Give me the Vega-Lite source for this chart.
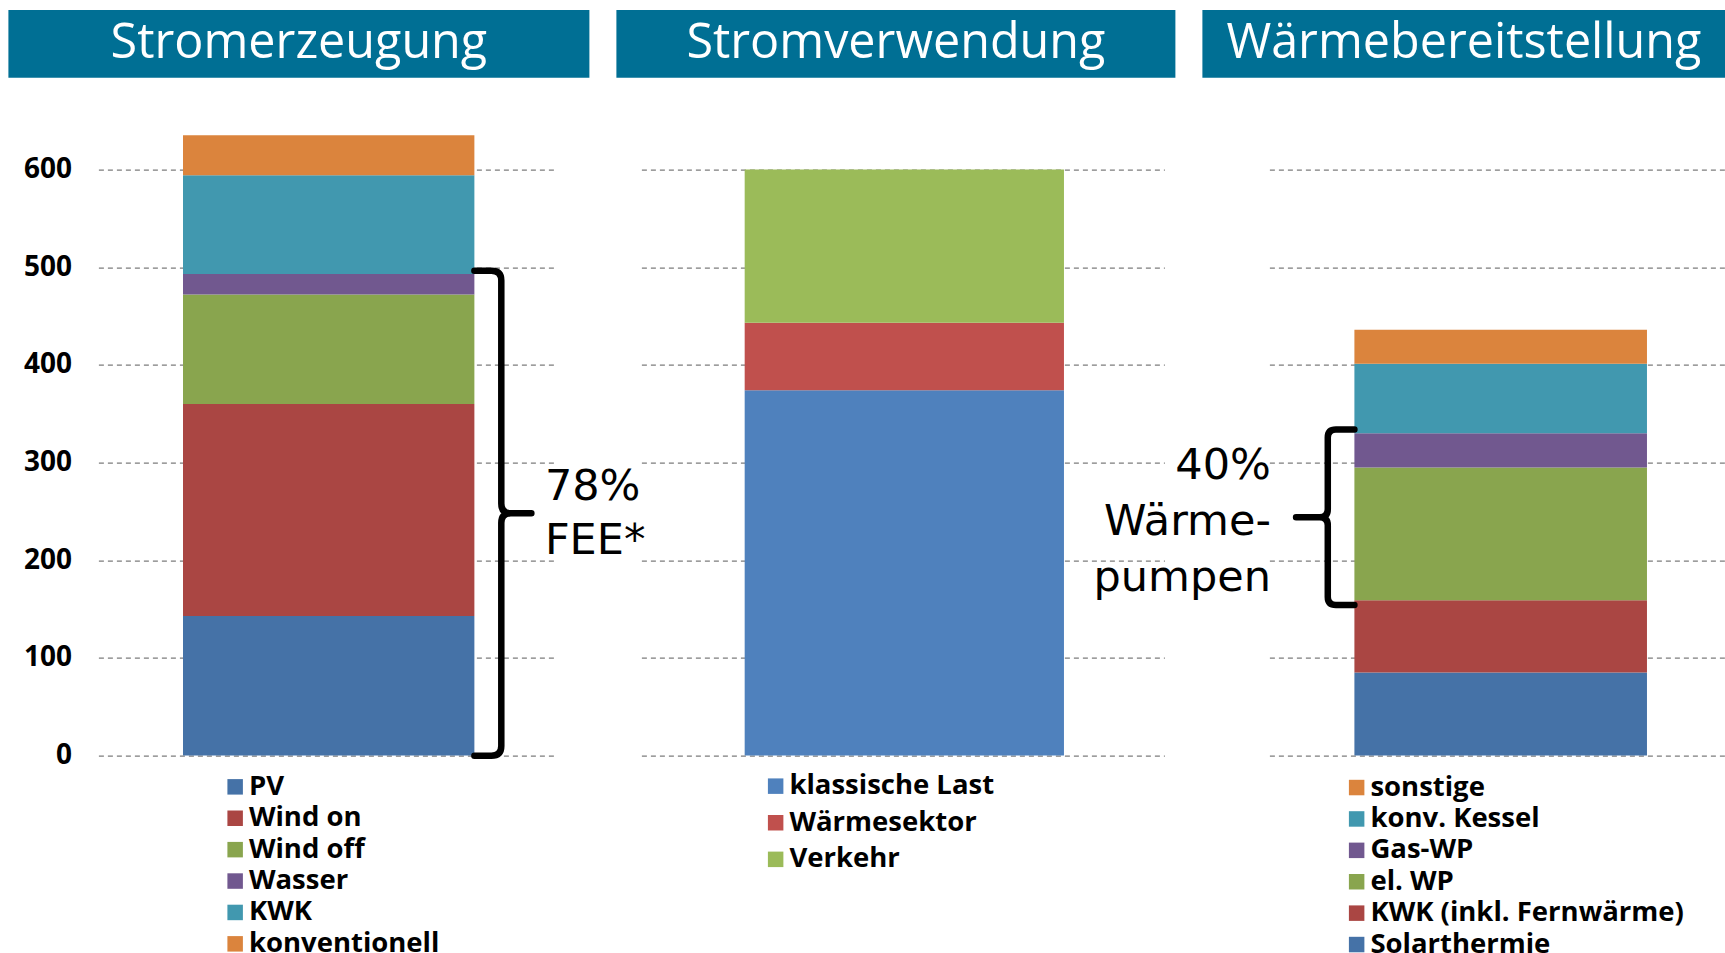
{
  "$schema": "https://vega.github.io/schema/vega-lite/v6.json",
  "padding": {"left": 8.4, "top": 10, "right": 0, "bottom": 0},
  "background": "white",
  "config": {"view": {"stroke": null}, "font": "Open Sans"},
  "datasets": {
    "balken": [
      {"panel": "Stromerzeugung", "kat": "PV", "wert": 143, "rang": 1},
      {"panel": "Stromerzeugung", "kat": "Wind on", "wert": 217, "rang": 2},
      {"panel": "Stromerzeugung", "kat": "Wind off", "wert": 112, "rang": 3},
      {"panel": "Stromerzeugung", "kat": "Wasser", "wert": 21, "rang": 4},
      {"panel": "Stromerzeugung", "kat": "KWK", "wert": 101, "rang": 5},
      {"panel": "Stromerzeugung", "kat": "konventionell", "wert": 41, "rang": 6},
      {"panel": "Stromverwendung", "kat": "klassische Last", "wert": 374, "rang": 1},
      {"panel": "Stromverwendung", "kat": "Wärmesektor", "wert": 69, "rang": 2},
      {"panel": "Stromverwendung", "kat": "Verkehr", "wert": 157, "rang": 3},
      {"panel": "Wärmebereitstellung", "kat": "Solarthermie", "wert": 85, "rang": 1},
      {"panel": "Wärmebereitstellung", "kat": "KWK (inkl. Fernwärme)", "wert": 74, "rang": 2},
      {"panel": "Wärmebereitstellung", "kat": "el. WP", "wert": 136, "rang": 3},
      {"panel": "Wärmebereitstellung", "kat": "Gas-WP", "wert": 35, "rang": 4},
      {"panel": "Wärmebereitstellung", "kat": "konv. Kessel", "wert": 71, "rang": 5},
      {"panel": "Wärmebereitstellung", "kat": "sonstige", "wert": 35, "rang": 6}
    ],
    "klammern": [
      {"panel": "Stromerzeugung", "wert": 248},
      {"panel": "Wärmebereitstellung", "wert": 244}
    ],
    "notizen": [
      {"panel": "Stromerzeugung", "wert": 261.3, "text": "78%\nFEE*"},
      {"panel": "Wärmebereitstellung", "wert": 283.5, "text": "40%\nWärme-\npumpen"}
    ]
  },
  "spacing": 42.6,
  "vconcat": [
    {
      "bounds": "flush",
      "spacing": 27,
      "hconcat": [
        {"width": 581, "height": 67.7, "view": {"fill": "#006f94", "stroke": null},
         "data": {"values": [{"titel": "Stromerzeugung"}]},
         "mark": {"type": "text", "fill": "#ffffff", "font": "Open Sans", "fontSize": 48.5, "align": "center", "baseline": "middle", "dy": -1},
         "encoding": {"text": {"field": "titel"}}},
        {"width": 559, "height": 67.7, "view": {"fill": "#006f94", "stroke": null},
         "data": {"values": [{"titel": "Stromverwendung"}]},
         "mark": {"type": "text", "fill": "#ffffff", "font": "Open Sans", "fontSize": 48.5, "align": "center", "baseline": "middle", "dy": -1},
         "encoding": {"text": {"field": "titel"}}},
        {"width": 523, "height": 67.7, "view": {"fill": "#006f94", "stroke": null},
         "data": {"values": [{"titel": "Wärmebereitstellung"}]},
         "mark": {"type": "text", "fill": "#ffffff", "font": "Open Sans", "fontSize": 48.5, "align": "center", "baseline": "middle", "dy": -1},
         "encoding": {"text": {"field": "titel"}}}
      ]
    },
    {
      "bounds": "flush",
      "spacing": 0,
      "resolve": {"scale": {"color": "independent", "x": "independent", "y": "independent"}, "legend": {"color": "independent"}, "axis": {"y": "independent", "x": "independent"}},
      "hconcat": [
        {"width": 89.3, "height": 635, "data": {"values": []}, "mark": "point"},
        {
          "width": 456.3, "height": 635,
          "layer": [
            {
              "data": {"name": "balken"},
              "transform": [{"filter": "datum.panel === 'Stromerzeugung'"}],
              "mark": {"type": "bar"},
              "encoding": {
                "x": {"field": "panel", "type": "nominal", "axis": null, "scale": {"paddingInner": 0, "paddingOuter": 0.283, "align": 0.513}},
                "y": {"field": "wert", "type": "quantitative", "stack": "zero", "scale": {"domain": [0, 650], "nice": false},
                  "axis": {"values": [0, 100, 200, 300, 400, 500, 600], "title": null, "domain": false, "ticks": false, "tickSize": 0, "labelPadding": 27, "labelFont": "Open Sans", "labelFontWeight": "bold", "labelFontSize": 28, "labelColor": "#000000", "grid": true, "gridDash": [5, 4], "gridColor": "#595959", "gridWidth": 1}},
                "color": {"field": "kat", "type": "nominal",
                  "scale": {"domain": ["PV", "Wind on", "Wind off", "Wasser", "KWK", "konventionell"], "range": ["#4572a7", "#aa4643", "#89a54e", "#71588f", "#4198af", "#db843d"]},
                  "legend": {"orient": "none", "legendX": 123, "legendY": 652.5, "title": null, "direction": "vertical", "symbolType": "square", "symbolSize": 240, "symbolStrokeWidth": 0, "labelFont": "Open Sans", "labelFontWeight": "bold", "labelFontSize": 27.5, "labelColor": "#000000", "labelOffset": 0, "rowPadding": 2.4, "padding": 0, "labelLimit": 600}},
                "order": {"field": "rang", "type": "quantitative"}
              }
            },
            {
              "data": {"name": "klammern"},
              "transform": [{"filter": "datum.panel === 'Stromerzeugung'"}],
              "mark": {"type": "point", "shape": "M 0 -1 L 0.07 -1 Q 0.111 -1 0.111 -0.96 L 0.111 -0.04 Q 0.111 0 0.15 0 L 0.235 0 M 0.15 0 Q 0.111 0 0.111 0.04 L 0.111 0.96 Q 0.111 1 0.07 1 L 0 1", "size": 235225, "filled": false, "stroke": "#000000", "strokeWidth": 6.5, "opacity": 1, "strokeCap": "round", "strokeJoin": "round"},
              "encoding": {
                "x": {"field": "panel", "type": "nominal", "bandPosition": 1},
                "y": {"field": "wert", "type": "quantitative", "title": null}
              }
            },
            {
              "data": {"name": "notizen"},
              "transform": [{"filter": "datum.panel === 'Stromerzeugung'"}],
              "mark": {"type": "text", "align": "left", "baseline": "alphabetic", "dx": 70.5, "font": "DejaVu Sans", "fontSize": 43, "lineHeight": 53.3, "lineBreak": "\n", "fill": "#000000"},
              "encoding": {
                "x": {"field": "panel", "type": "nominal", "bandPosition": 1},
                "y": {"field": "wert", "type": "quantitative", "title": null},
                "text": {"field": "text"}
              }
            }
          ]
        },
        {"width": 86, "height": 635, "data": {"values": []}, "mark": "point"},
        {
          "width": 523, "height": 635,
          "layer": [
            {
              "data": {"name": "balken"},
              "transform": [{"filter": "datum.panel === 'Stromverwendung'"}],
              "mark": {"type": "bar"},
              "encoding": {
                "x": {"field": "panel", "type": "nominal", "axis": null, "scale": {"paddingInner": 0, "paddingOuter": 0.319, "align": 0.507}},
                "y": {"field": "wert", "type": "quantitative", "stack": "zero", "scale": {"domain": [0, 650], "nice": false},
                  "axis": {"values": [0, 100, 200, 300, 400, 500, 600], "title": null, "domain": false, "ticks": false, "tickSize": 0, "labels": false, "grid": true, "gridDash": [5, 4], "gridColor": "#595959", "gridWidth": 1}},
                "color": {"field": "kat", "type": "nominal",
                  "scale": {"domain": ["klassische Last", "Wärmesektor", "Verkehr"], "range": ["#4f81bd", "#c0504d", "#9bbb59"]},
                  "legend": {"orient": "none", "legendX": 120.5, "legendY": 651.8, "title": null, "direction": "vertical", "symbolType": "square", "symbolSize": 240, "symbolStrokeWidth": 0, "labelFont": "Open Sans", "labelFontWeight": "bold", "labelFontSize": 27.5, "labelColor": "#000000", "labelOffset": 0, "rowPadding": 7.6, "padding": 0, "labelLimit": 600}},
                "order": {"field": "rang", "type": "quantitative"}
              }
            }
          ]
        },
        {"width": 105, "height": 635, "data": {"values": []}, "mark": "point"},
        {
          "width": 457, "height": 635,
          "layer": [
            {
              "data": {"name": "balken"},
              "transform": [{"filter": "datum.panel === 'Wärmebereitstellung'"}],
              "mark": {"type": "bar"},
              "encoding": {
                "x": {"field": "panel", "type": "nominal", "axis": null, "scale": {"paddingInner": 0, "paddingOuter": 0.281, "align": 0.517}},
                "y": {"field": "wert", "type": "quantitative", "stack": "zero", "scale": {"domain": [0, 650], "nice": false},
                  "axis": {"values": [0, 100, 200, 300, 400, 500, 600], "title": null, "domain": false, "ticks": false, "tickSize": 0, "labels": false, "grid": true, "gridDash": [5, 4], "gridColor": "#595959", "gridWidth": 1}},
                "color": {"field": "kat", "type": "nominal",
                  "scale": {"domain": ["sonstige", "konv. Kessel", "Gas-WP", "el. WP", "KWK (inkl. Fernwärme)", "Solarthermie"], "range": ["#db843d", "#4198af", "#71588f", "#89a54e", "#aa4643", "#4572a7"]},
                  "legend": {"orient": "none", "legendX": 73.5, "legendY": 653.2, "title": null, "direction": "vertical", "symbolType": "square", "symbolSize": 240, "symbolStrokeWidth": 0, "labelFont": "Open Sans", "labelFontWeight": "bold", "labelFontSize": 27.5, "labelColor": "#000000", "labelOffset": 0, "rowPadding": 2.4, "padding": 0, "labelLimit": 600}},
                "order": {"field": "rang", "type": "quantitative"}
              }
            },
            {
              "data": {"name": "klammern"},
              "transform": [{"filter": "datum.panel === 'Wärmebereitstellung'"}],
              "mark": {"type": "point", "shape": "M 0 -1 L -0.21 -1 Q -0.303 -1 -0.303 -0.909 L -0.303 -0.091 Q -0.303 0 -0.394 0 L -0.664 0 M -0.394 0 Q -0.303 0 -0.303 0.091 L -0.303 0.909 Q -0.303 1 -0.21 1 L 0 1", "size": 30870, "filled": false, "stroke": "#000000", "strokeWidth": 6.5, "opacity": 1, "strokeCap": "round", "strokeJoin": "round"},
              "encoding": {
                "x": {"field": "panel", "type": "nominal", "bandPosition": 0},
                "y": {"field": "wert", "type": "quantitative", "title": null}
              }
            },
            {
              "data": {"name": "notizen"},
              "transform": [{"filter": "datum.panel === 'Wärmebereitstellung'"}],
              "mark": {"type": "text", "align": "right", "baseline": "alphabetic", "dx": -83.5, "font": "DejaVu Sans", "fontSize": 43, "lineHeight": 56, "lineBreak": "\n", "fill": "#000000"},
              "encoding": {
                "x": {"field": "panel", "type": "nominal", "bandPosition": 0},
                "y": {"field": "wert", "type": "quantitative", "title": null},
                "text": {"field": "text"}
              }
            }
          ]
        }
      ]
    }
  ]
}
